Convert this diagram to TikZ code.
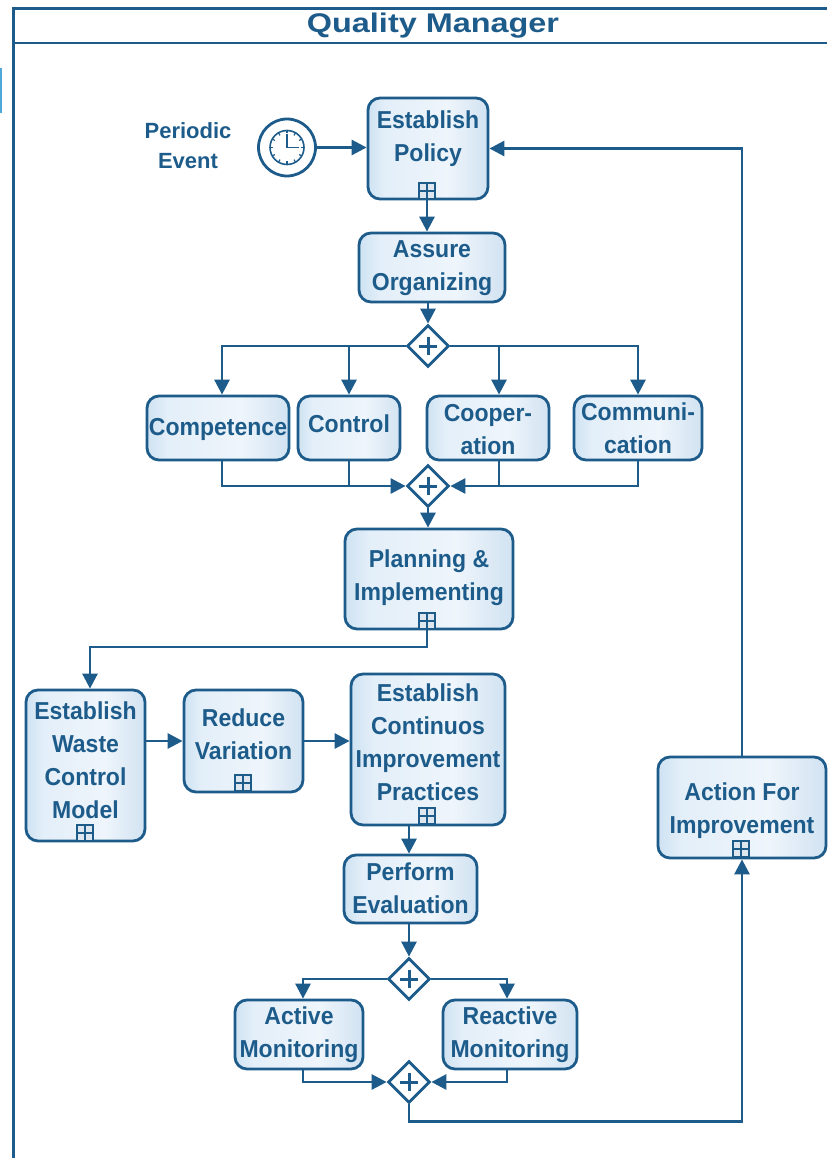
\documentclass[tikz,border=0pt]{standalone}
\usepackage{fontspec}
\setmainfont{Liberation Sans}
\newfontfamily\boxfont[FakeStretch=0.94]{Liberation Sans}
\usetikzlibrary{arrows.meta,shapes.geometric,calc}
\definecolor{qblue}{HTML}{1D5C8A}
\definecolor{qtab}{HTML}{4FA8D8}
\pgfdeclarehorizontalshading{boxshade}{100bp}{rgb(0bp)=(0.42,0.64,0.81); rgb(12bp)=(0.66,0.80,0.90); rgb(32bp)=(0.89,0.935,0.975); rgb(58bp)=(0.935,0.96,0.985); rgb(78bp)=(0.80,0.875,0.94); rgb(92bp)=(0.55,0.72,0.85); rgb(100bp)=(0.30,0.54,0.73)}
% text set inside a box, raised by #1 from the box centre
\newcommand{\bt}[2]{\makebox[0pt]{\raisebox{\dimexpr #1pt-1.4pt\relax}[0pt][0pt]{\begin{tabular}[c]{@{}c@{}}#2\end{tabular}}}}
\tikzset{
  boxn/.style={draw=qblue,line width=2.8pt,rounded corners=12pt,shade,shading=boxshade,inner sep=0pt,text=qblue,
    font=\boxfont\fontsize{24.5}{33}\selectfont\bfseries},
  gate/.style={diamond,draw=qblue,fill=white,line width=2.8pt,minimum width=42pt,minimum height=42pt,inner sep=0pt},
  expand/.style={rectangle,draw=qblue,fill=white!85!qblue,line width=1.9pt,minimum width=16pt,minimum height=16pt,inner sep=0pt},
  flow/.style={draw=qblue,line width=2.8pt,-{Triangle[length=15pt,width=15pt]}},
  plain/.style={draw=qblue,line width=2.8pt},
  mark line/.style={draw=qblue,line width=1.9pt},
  lab/.style={text=qblue,font=\fontsize{22}{30}\selectfont\bfseries,align=center,inner sep=0pt},
  title/.style={text=qblue,font=\fontsize{27}{30}\selectfont\addfontfeature{FakeStretch=1.2}\bfseries,inner sep=0pt},
}
\newcommand{\qbox}[6]{\node[boxn,minimum width=#4pt,minimum height=#5pt] (#1) at (#2,#3) {#6};}
\begin{document}
\begin{tikzpicture}[x=1pt,y=-1pt]
\useasboundingbox (0,0) rectangle (827,1158);
% pool
\fill[qtab] (0,68) rectangle (2,113);
\draw[qblue,line width=2.8pt] (827,8.5) -- (13.5,8.5) -- (13.5,1158);
\draw[qblue,line width=2.8pt] (13.5,43) -- (827,43);
\node[title] (pooltitle) at (433,25.5) {Quality Manager};
% start event
\node[lab] (evlabel) at (188,146) {Periodic\\Event};
\node[circle,draw=qblue,fill=white,line width=2.8pt,minimum size=57pt,inner sep=0pt] (clock) at (287,147.5) {};
\node[circle,draw=qblue,line width=1.6pt,minimum size=34pt,inner sep=0pt] (face) at (clock.center) {};
\foreach \a in {0,30,...,330}{\draw[qblue,line width=1.2pt] ($(face.center)+(\a:14pt)$) -- ($(face.center)+(\a:17pt)$);}
\draw[qblue,line width=1.6pt] ($(face.center)+(0,-13)$) -- (face.center) -- ($(face.center)+(12,0)$);
% tasks
\qbox{policy}{428}{148.5}{120}{101}{\bt{5}{Establish\\Policy}}
\qbox{assure}{432}{267.5}{146}{69}{\bt{-5}{Assure\\Organizing}}
\qbox{comp}{218}{428}{142}{64}{\bt{-6}{Competence}}
\qbox{ctrl}{349}{428}{102}{64}{\bt{-3}{Control}}
\qbox{coop}{488}{428}{122}{64}{\bt{-8.5}{Cooper-\\ation}}
\qbox{comm}{638}{428}{128}{64}{\bt{-7.5}{Communi-\\cation}}
\qbox{plan}{429}{579}{168}{100}{\bt{-3.5}{Planning \&\\Implementing}}
\qbox{waste}{85.5}{765.5}{119}{151}{\bt{-2}{Establish\\Waste\\Control\\Model}}
\qbox{reduce}{243.5}{741}{119}{102}{\bt{-0.5}{Reduce\\Variation}}
\qbox{contin}{428}{749.5}{154}{151}{\bt{0}{Establish\\Continuos\\Improvement\\Practices}}
\qbox{perform}{410.5}{889}{133}{68}{\bt{-6.5}{Perform\\Evaluation}}
\qbox{active}{299}{1034.5}{128}{69}{\bt{-5}{Active\\Monitoring}}
\qbox{reactive}{510}{1034.5}{134}{69}{\bt{-5}{Reactive\\Monitoring}}
\qbox{action}{742}{807.5}{168}{101}{\bt{-8}{Action For\\Improvement}}
% gateways
\node[gate] (gwa) at (428,346) {};
\node[gate] (gwb) at (428,486) {};
\node[gate] (gwc) at (409,979) {};
\node[gate] (gwd) at (409,1082) {};
\foreach \g in {gwa,gwb,gwc,gwd}{
  \draw[qblue,line width=3pt] ($(\g.center)+(-9,0)$) -- ($(\g.center)+(9,0)$);
  \draw[qblue,line width=3pt] ($(\g.center)+(0,-9)$) -- ($(\g.center)+(0,9)$);
}
% sub-process markers
\node[expand] (xa) at (427,191) {};
\node[expand] (xb) at (427,621) {};
\node[expand] (xc) at (85,833) {};
\node[expand] (xd) at (243,783) {};
\node[expand] (xe) at (427,816) {};
\node[expand] (xf) at (741,849) {};
\foreach \m in {xa,xb,xc,xd,xe,xf}{
  \draw[mark line] (\m.west) -- (\m.east);
  \draw[mark line] (\m.north) -- (\m.south);
}
% connectors
\draw[flow] (clock.east) -- (policy.west |- clock.east);
\draw[flow] (xa.south) -- (xa.south |- assure.north);
\draw[flow] (gwa.north |- assure.south) -- (gwa.north);
\draw[flow] (gwa.west) -| ([xshift=4pt]comp.north);
\draw[flow] (ctrl.north |- gwa.west) -- (ctrl.north);
\draw[flow] (gwa.east) -| (comm.north);
\draw[flow] ([xshift=11pt]coop.north |- gwa.east) -- ([xshift=11pt]coop.north);
\draw[flow] ([xshift=4pt]comp.south) |- (gwb.west);
\draw[plain] (ctrl.south) -- (ctrl.south |- gwb.west);
\draw[flow] (comm.south) |- (gwb.east);
\draw[plain] ([xshift=11pt]coop.south) -- ([xshift=11pt]coop.south |- gwb.east);
\draw[flow] (gwb.south) -- (gwb.south |- plan.north);
\draw[flow] (xb.south) -- ++(0,17) -| ([xshift=4.5pt]waste.north);
\draw[flow] (waste.east |- reduce.west) -- (reduce.west);
\draw[flow] (reduce.east) -- (contin.west |- reduce.east);
\draw[flow] (gwc.north |- contin.south) -- (gwc.north |- perform.north);
\draw[flow] (gwc.north |- perform.south) -- (gwc.north);
\draw[flow] (gwc.west) -| ([xshift=4pt]active.north);
\draw[flow] (gwc.east) -| ([xshift=-3pt]reactive.north);
\draw[flow] ([xshift=4pt]active.south) |- (gwd.west);
\draw[flow] ([xshift=-3pt]reactive.south) |- (gwd.east);
\draw[flow] (gwd.south) -- ++(0,17) -| (action.south);
\draw[flow] (action.north) |- (policy.east);
\end{tikzpicture}
\end{document}
